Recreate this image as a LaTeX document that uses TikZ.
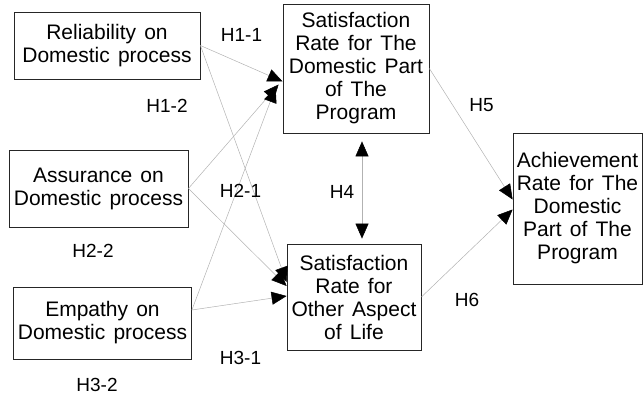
\documentclass[tikz,border=0pt]{standalone}
\usepackage{fontspec}
\setmainfont{Liberation Sans}
\newfontfamily\boxfamily[WordSpace=1.4]{Liberation Sans}
\usetikzlibrary{arrows.meta}

\begin{document}
\begin{tikzpicture}[
        x=1pt, y=-1pt, % pixel-like units, y pointing down
        >={Triangle[length=15pt, width=13pt, color=black]},
        box/.style={draw=black!85, line width=0.8pt, inner sep=0pt, align=center, font=\boxfamily\fontsize{21}{23}\selectfont}, % Box styling
        link/.style={draw=black!30, line width=0.5pt, ->}, % Arrow styling
        hyp/.style={font=\fontsize{19}{22}\selectfont} % Hypothesis labels
        ]
        \useasboundingbox (0,0) rectangle (643,396);

        % Define nodes
        \node (rel) [box, minimum width=186pt, minimum height=67pt] at (107,45.5) {Reliability on\\Domestic process};
        \node (asr) [box, minimum width=179pt, minimum height=77pt] at (98.5,188.5) {Assurance on\\Domestic process};
        \node (emp) [box, minimum width=178pt, minimum height=72pt] at (102.5,323) {Empathy on\\Domestic process};
        \node (sattop) [box, minimum width=146pt, minimum height=129pt] at (356,68.5) {Satisfaction\\Rate for The\\Domestic Part\\of The\\Program};
        \node (satoth) [box, minimum width=134pt, minimum height=106pt] at (354,297) {Satisfaction\\Rate for\\Other Aspect\\of Life};
        \node (ach) [box, minimum width=129pt, minimum height=151pt] at (577.5,208.5) {Achievement\\Rate for The\\Domestic\\Part of The\\Program};

        % Draw arrows
        \draw[link] (rel.east) -- ([yshift=-13pt]sattop.west);
        \draw[link] (rel.east) -- ([yshift=15pt]satoth.west);

        \draw[link] (asr.east) -- ([xshift=-4pt,yshift=-16pt]sattop.west);
        \draw[link] (asr.east) -- ([yshift=11pt]satoth.west);

        \draw[link] ([yshift=13pt]emp.east) -- ([xshift=-7pt,yshift=-19pt]sattop.west);
        \draw[link] ([yshift=13pt]emp.east) -- ([yshift=1pt]satoth.west);

        \draw[link, <->, shorten <=8pt, shorten >=5pt] ([xshift=6pt]sattop.south) -- ([xshift=6pt]sattop.south |- satoth.north);

        \draw[link] (sattop.east) -- ([yshift=9pt]ach.west);
        \draw[link] (satoth.east) -- ([yshift=-1pt]ach.west);

        % Hypothesis labels
        \node (h11) [hyp] at (241.5,34.5) {H1-1};
        \node (h12) [hyp] at (167,106) {H1-2};
        \node (h21) [hyp] at (240.5,190.5) {H2-1};
        \node (h22) [hyp] at (93,250.5) {H2-2};
        \node (h31) [hyp] at (240.5,357.5) {H3-1};
        \node (h32) [hyp] at (97,384.5) {H3-2};
        \node (h4) [hyp] at (342,192) {H4};
        \node (h5) [hyp] at (481.5,105.5) {H5};
        \node (h6) [hyp] at (467,299.5) {H6};

\end{tikzpicture}
\end{document}
